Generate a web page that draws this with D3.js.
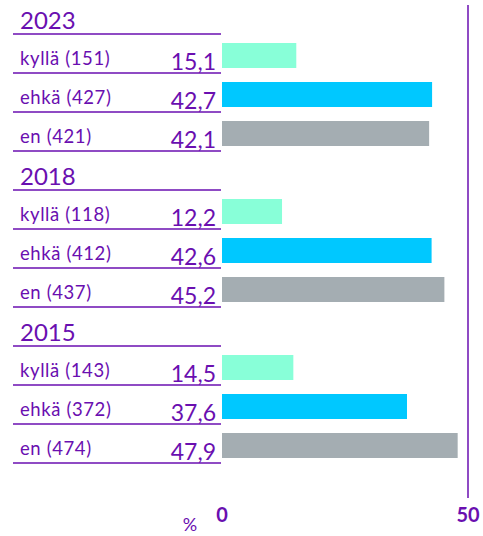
<!DOCTYPE html>
<html>
<head>
<meta charset="utf-8">
<script src="https://cdn.jsdelivr.net/npm/d3@7"></script>
<style>
  body { margin: 0; background: #fff; }
  text { font-family: Lato, "Open Sans", sans-serif; }
</style>
</head>
<body>
<div id="chart"></div>
<script>
// data
const years = ['2023', '2018', '2015'];
const answers = ['kyllä', 'ehkä', 'en'];
const counts = [[151, 427, 421], [118, 412, 437], [143, 372, 474]];
const values = [[15.1, 42.7, 42.1], [12.2, 42.6, 45.2], [14.5, 37.6, 47.9]];
const ticks = [0, 50];
const colors = ['#88ffd8', '#00c8ff', '#a4adb2'];

const purple = '#6a0fb0';
const W = 483, H = 536;
const rowH = 39;
const top0 = 34; // line under first year header

const svg = d3.select('#chart').append('svg')
  .attr('width', W)
  .attr('height', H);

const x = d3.scaleLinear().domain([0, 50]).range([222, 468]);

// build rows
let rows = [];
years.forEach((yr, g) => {
  answers.forEach((a, i) => {
    rows.push({year: yr, g: g, i: i, label: `${a} (${counts[g][i]})`, v: values[g][i], color: colors[i]});
  });
});

const groupY = g => top0 + g * 4 * rowH;
const rowLine = d => groupY(d.g) + (d.i + 1) * rowH;

// year headers
const heads = svg.selectAll('.year').data(years).enter().append('g').classed('year', true);
heads.append('text')
  .attr('x', 20)
  .attr('y', (d, g) => groupY(g) - 5)
  .attr('font-size', 24)
  .attr('fill', purple)
  .text(d => d);
heads.append('line')
  .attr('x1', 13).attr('x2', 221)
  .attr('y1', (d, g) => groupY(g)).attr('y2', (d, g) => groupY(g))
  .attr('stroke', purple).attr('stroke-width', 1.5);

const r = svg.selectAll('.row').data(rows).enter().append('g').classed('row', true);
r.append('text')
  .attr('x', 20)
  .attr('y', d => rowLine(d) - 8)
  .attr('font-size', 18.5)
  .attr('letter-spacing', 0.6)
  .attr('fill', purple)
  .text(d => d.label);
r.append('text')
  .attr('x', 216)
  .attr('y', d => rowLine(d) - 3)
  .attr('text-anchor', 'end')
  .attr('font-size', 23)
  .attr('fill', purple)
  .text(d => d3.format('.1f')(d.v).replace('.', ','));
r.append('line')
  .attr('x1', 13).attr('x2', 221)
  .attr('y1', d => rowLine(d)).attr('y2', d => rowLine(d))
  .attr('stroke', purple).attr('stroke-width', 1.5);
r.append('rect')
  .attr('x', x(0))
  .attr('y', d => rowLine(d) - 30)
  .attr('width', d => x(d.v) - x(0))
  .attr('height', 25)
  .attr('fill', d => d.color);

// right reference line at 50
svg.append('line')
  .attr('x1', x(50)).attr('x2', x(50))
  .attr('y1', 5).attr('y2', 498)
  .attr('stroke', purple).attr('stroke-width', 1.5);

// tick labels
svg.selectAll('.tick').data(ticks).enter().append('text')
  .classed('tick', true)
  .attr('x', d => x(d))
  .attr('y', 522)
  .attr('text-anchor', 'middle')
  .attr('font-size', 20)
  .attr('font-weight', 'bold')
  .attr('fill', purple)
  .text(d => d);

svg.append('text')
  .attr('x', 190)
  .attr('y', 531)
  .attr('text-anchor', 'middle')
  .attr('font-size', 18)
  .attr('fill', purple)
  .text('%');
</script>
</body>
</html>
